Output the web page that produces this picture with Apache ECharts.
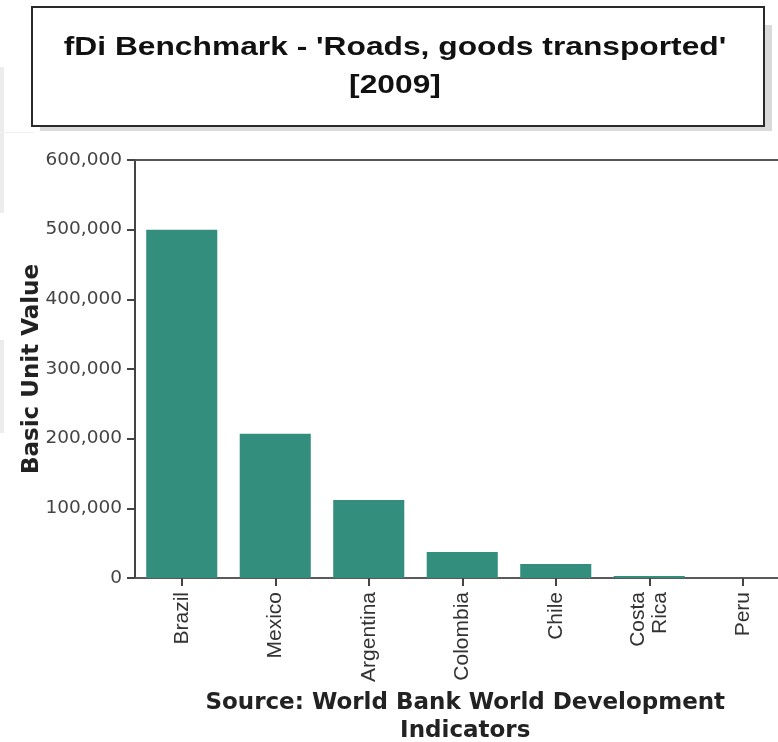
<!DOCTYPE html>
<html>
<head>
<meta charset="utf-8">
<script src="https://cdn.jsdelivr.net/npm/echarts@6/dist/echarts.min.js"></script>
<style>
  html, body { margin: 0; padding: 0; background: #ffffff; }
  #chart { width: 778px; height: 742px; }
</style>
</head>
<body>
<div id="chart"></div>
<script>
// Road freight by country, 2009
const countries = ['Brazil', 'Mexico', 'Argentina', 'Colombia', 'Chile', 'Costa\nRica', 'Peru'];
const goodsTransported = [500000, 207000, 112000, 37500, 20000, 3000, 0];
const yTicks = [0, 100000, 200000, 300000, 400000, 500000, 600000];

const chart = echarts.init(document.getElementById('chart'), null, { renderer: 'canvas' });

const fmt = v => v.toLocaleString('en-US');

chart.setOption({
  backgroundColor: '#ffffff',
  animation: false,
  graphic: [
    // faint panels along the left edge
    { type: 'rect', shape: { x: 0, y: 67, width: 4, height: 146 }, style: { fill: '#ececec' }, z: 0 },
    { type: 'rect', shape: { x: 0, y: 340, width: 4, height: 93 }, style: { fill: '#ececec' }, z: 0 },
    { type: 'rect', shape: { x: 0, y: 132, width: 34, height: 1 }, style: { fill: '#f0f0f0' }, z: 0 },
    // title box: hard drop shadow, then the framed box
    { type: 'rect', shape: { x: 40, y: 25, width: 732, height: 106 }, style: { fill: '#dadada' }, z: 9 },
    {
      type: 'rect',
      shape: { x: 32, y: 7, width: 732, height: 119 },
      style: { fill: '#ffffff', stroke: '#2a2a2a', lineWidth: 2 },
      z: 10
    },
    {
      type: 'text',
      x: 395, y: 67,
      scaleX: 1.27,
      style: {
        text: "fDi Benchmark - 'Roads, goods transported'\n[2009]",
        fill: '#111111',
        font: 'bold 25px "Liberation Sans", Arial, sans-serif',
        align: 'center', verticalAlign: 'middle', lineHeight: 38
      },
      z: 11
    }
  ],
  grid: { left: 135, right: -11.5, top: 160, bottom: 164, containLabel: false, outerBoundsMode: 'none' },
  xAxis: [
    {
      type: 'category',
      data: countries,
      position: 'bottom',
      name: 'Source: World Bank World Development\nIndicators',
      nameLocation: 'middle',
      nameGap: 111,
      nameMoveOverlap: false,
      nameTextStyle: {
        fontFamily: '"DejaVu Sans", Verdana, sans-serif',
        fontWeight: 'bold', fontSize: 23, color: '#222222', lineHeight: 28,
        verticalAlign: 'top', padding: [0, 0, 0, 6]
      },
      axisLine: { show: true, lineStyle: { color: '#5a5a5a', width: 2 } },
      axisTick: { show: true, alignWithLabel: true, length: 8, lineStyle: { color: '#444444', width: 2 } },
      axisLabel: {
        rotate: 90, margin: 14, interval: 0,
        fontFamily: '"Liberation Sans", Arial, sans-serif', fontSize: 21, color: '#333333', lineHeight: 22
      },
      splitLine: { show: false }
    },
    {
      type: 'category',
      data: countries,
      position: 'top',
      axisLine: { show: true, lineStyle: { color: '#555555', width: 2 } },
      axisTick: { show: false },
      axisLabel: { show: false }
    }
  ],
  yAxis: {
    type: 'value',
    min: yTicks[0],
    max: yTicks[yTicks.length - 1],
    interval: yTicks[1] - yTicks[0],
    name: 'Basic Unit Value',
    nameLocation: 'middle',
    nameGap: 91,
    nameMoveOverlap: false,
    nameTextStyle: {
      fontFamily: '"DejaVu Sans", Verdana, sans-serif',
      fontWeight: 'bold', fontSize: 23, color: '#222222'
    },
    axisLine: { show: true, lineStyle: { color: '#444444', width: 2 } },
    axisTick: { show: true, length: 8, lineStyle: { color: '#444444', width: 2 } },
    axisLabel: {
      margin: 13, formatter: fmt,
      fontFamily: '"DejaVu Sans", Verdana, sans-serif', fontSize: 18.5, color: '#444444'
    },
    splitLine: { show: false }
  },
  series: [{
    type: 'bar',
    data: goodsTransported,
    barCategoryGap: '24%',
    itemStyle: { color: '#348e7e' },
    silent: true
  }]
});
</script>
</body>
</html>
